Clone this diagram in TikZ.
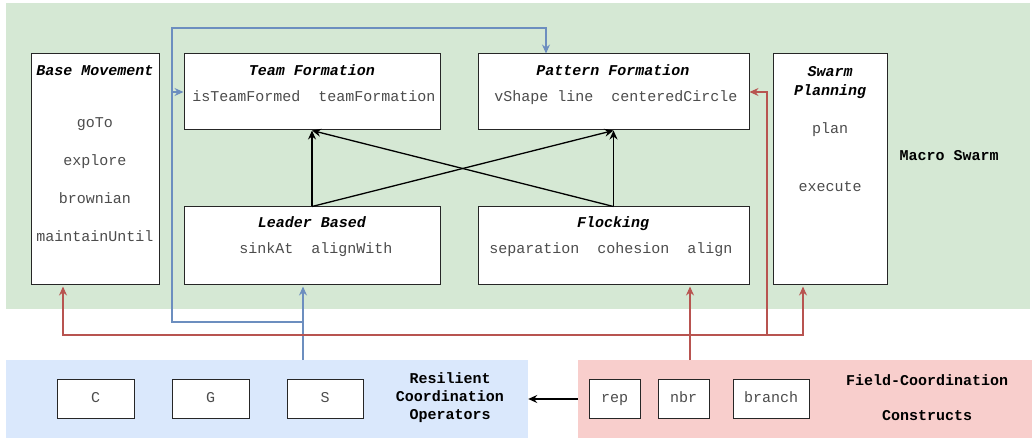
\documentclass[tikz,border=0pt]{standalone}
\usepackage{fontspec}
\setmonofont{Liberation Mono}
\usetikzlibrary{arrows.meta}

\definecolor{swarmgreen}{HTML}{D5E8D4}
\definecolor{opblue}{HTML}{DAE8FC}
\definecolor{fieldred}{HTML}{F8CECC}
\definecolor{lineblue}{HTML}{6C8EBF}
\definecolor{linered}{HTML}{B85450}

\begin{document}
\begin{tikzpicture}[x=1pt, y=-1pt,
    font=\ttfamily\fontsize{15}{18}\selectfont,
    region/.style={rectangle, inner sep=0pt},
    block/.style={draw=black!85, line width=1pt, fill=white, rectangle, inner sep=0pt,
        text=black!70, text height=10pt, text depth=3pt},
    title/.style={font=\ttfamily\bfseries\itshape\fontsize{15}{19}\selectfont},
    item/.style={text=black!70, text height=10pt, text depth=3pt},
    tag/.style={font=\ttfamily\bfseries\fontsize{15}{18}\selectfont, align=center},
    link/.style={-{Stealth[length=9pt, width=8pt, inset=3pt]}, line width=1.3pt},
    bluelink/.style={link, draw=lineblue, line width=1.1pt},
    redlink/.style={link, draw=linered, line width=1.1pt}]
    \useasboundingbox (0,0) rectangle (1032,438);

    % Regions
    \node[region, fill=swarmgreen, minimum width=1024pt, minimum height=306pt] (macro) at (518,156) {};
    \node[region, fill=opblue, minimum width=522pt, minimum height=78pt] (rco) at (267,399) {};
    \node[region, fill=fieldred, minimum width=454pt, minimum height=78pt] (fcc) at (805,399) {};

    % Macro swarm blocks
    \node[block, minimum width=127.5pt, minimum height=230pt] (base) at (95.25,169) {};
    \node[block, minimum width=256pt, minimum height=76pt] (team) at (312,92) {};
    \node[block, minimum width=271pt, minimum height=76pt] (pattern) at (613.5,92) {};
    \node[block, minimum width=114pt, minimum height=230pt] (plan) at (830,169) {};
    \node[block, minimum width=256pt, minimum height=77pt] (leader) at (312,245.5) {};
    \node[block, minimum width=271pt, minimum height=77pt] (flock) at (613.5,245.5) {};

    % Block texts
    \node[title, text height=10pt, text depth=3pt] (baseT) at (95,72) {Base Movement};
    \node[item] (goTo) at (95,124) {goTo};
    \node[item] (explore) at (95,162) {explore};
    \node[item] (brownian) at (95,200) {brownian};
    \node[item] (maintain) at (95,238) {maintainUntil};

    \node[title, text height=10pt, text depth=3pt] (teamT) at (312,72) {Team Formation};
    \node[item] (teamI) at (314,98) {isTeamFormed~~teamFormation};

    \node[title, text height=10pt, text depth=3pt] (patternT) at (613,72) {Pattern Formation};
    \node[item] (patternI) at (616,98) {vShape line~~centeredCircle};

    \node[title, align=center] (planT) at (830,83) {Swarm\\Planning};
    \node[item] (planI) at (830,130) {plan};
    \node[item] (execI) at (830,188) {execute};

    \node[title, text height=10pt, text depth=3pt] (leaderT) at (312,224) {Leader Based};
    \node[item] (leaderI) at (316,250) {sinkAt~~alignWith};

    \node[title, text height=10pt, text depth=3pt] (flockT) at (613,224) {Flocking};
    \node[item] (flockI) at (611,250) {separation~~cohesion~~align};

    \node[tag] (macroL) at (949,156) {Macro Swarm};

    % Operators and constructs
    \node[block, minimum width=77pt, minimum height=39pt] (opC) at (95.5,398.5) {C};
    \node[block, minimum width=77pt, minimum height=39pt] (opG) at (210.5,398.5) {G};
    \node[block, minimum width=76pt, minimum height=39pt] (opS) at (325,398.5) {S};
    \node[tag] (rcoL) at (450,398) {Resilient\\Coordination\\Operators};

    \node[block, minimum width=51pt, minimum height=39pt] (rep) at (614.5,398.5) {rep};
    \node[block, minimum width=51pt, minimum height=39pt] (nbr) at (683.5,398.5) {nbr};
    \node[block, minimum width=76pt, minimum height=39pt] (branch) at (771,398.5) {branch};
    \node[tag] (fccL) at (927,398) {Field-Coordination\\[17pt]Constructs};

    % Black arrows
    \draw[link] (leader.north) -- (team.south);
    \draw[link] (leader.north) -- (pattern.south);
    \draw[link] (flock.north) -- (pattern.south);
    \draw[link] (flock.north) -- (team.south);
    \draw[link] (fcc.west) -- (rco.east);

    % Blue connectors
    \coordinate (sOut) at (303,360);
    \coordinate (bJoin) at (303,322);
    \coordinate (bLeft) at (172,322);
    \coordinate (bTop) at (546,28);
    \draw[bluelink, shorten >=2pt] (sOut) -- (leader.south -| sOut);
    \draw[bluelink] (bJoin) -- (bLeft) |- (bTop) -- (pattern.north -| bTop);
    \draw[bluelink] (bLeft |- team.west) -- (team.west);

    % Red connectors
    \coordinate (rOut) at (690,360);
    \coordinate (rJoin) at (690,335);
    \coordinate (rLeft) at (63,335);
    \coordinate (rRight) at (803,335);
    \coordinate (rMid) at (767,335);
    \draw[redlink, shorten >=2pt] (rOut) -- (flock.south -| rOut);
    \draw[redlink, shorten >=2pt] (rJoin) -- (rLeft) -- (base.south -| rLeft);
    \draw[redlink, shorten >=2pt] (rJoin) -- (rRight) -- (plan.south -| rRight);
    \draw[redlink] (rMid) |- (pattern.east);
\end{tikzpicture}
\end{document}
